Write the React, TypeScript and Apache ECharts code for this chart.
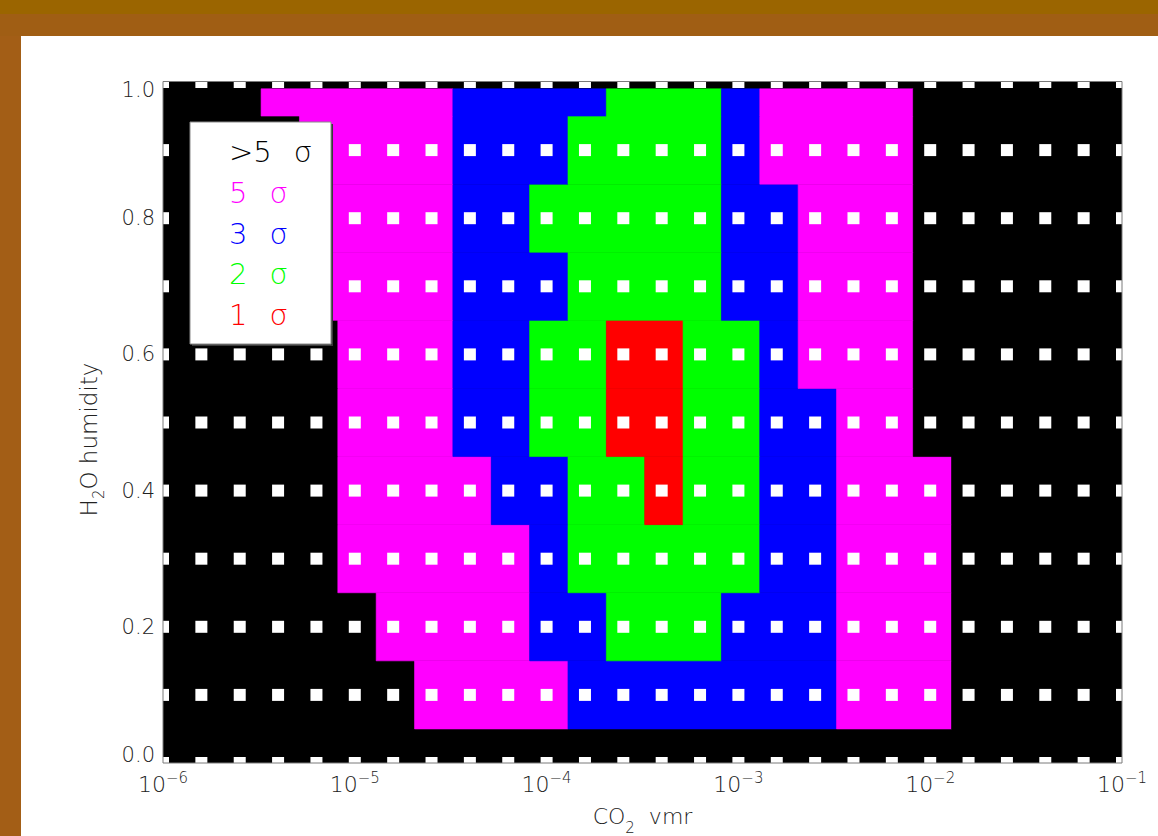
import React, { useEffect, useRef } from "react";
import * as echarts from "echarts";

// CO2 volume mixing ratio grid (five steps per decade)
const CO2_VMR = [
  1e-6, 1.585e-6, 2.512e-6, 3.981e-6, 6.31e-6,
  1e-5, 1.585e-5, 2.512e-5, 3.981e-5, 6.31e-5,
  1e-4, 1.585e-4, 2.512e-4, 3.981e-4, 6.31e-4,
  1e-3, 1.585e-3, 2.512e-3, 3.981e-3, 6.31e-3,
  1e-2, 1.585e-2, 2.512e-2, 3.981e-2, 6.31e-2,
  1e-1,
];

// H2O humidity grid
const H2O_HUMIDITY = [0.0, 0.1, 0.2, 0.3, 0.4, 0.5, 0.6, 0.7, 0.8, 0.9, 1.0];

// Confidence level of each grid cell: 0 = >5σ, 1 = 5σ, 2 = 3σ, 3 = 2σ, 4 = 1σ
// One row per humidity value (bottom to top), one column per CO2 value.
const SIGMA_ROW_00 = [0,0,0,0,0,0,0,0,0,0,0,0,0,0,0,0,0,0,0,0,0,0,0,0,0,0];
const SIGMA_ROW_01 = [0,0,0,0,0,0,0,1,1,1,1,2,2,2,2,2,2,2,1,1,1,0,0,0,0,0];
const SIGMA_ROW_02 = [0,0,0,0,0,0,1,1,1,1,2,2,3,3,3,2,2,2,1,1,1,0,0,0,0,0];
const SIGMA_ROW_03 = [0,0,0,0,0,1,1,1,1,1,2,3,3,3,3,3,2,2,1,1,1,0,0,0,0,0];
const SIGMA_ROW_04 = [0,0,0,0,0,1,1,1,1,2,2,3,3,4,3,3,2,2,1,1,1,0,0,0,0,0];
const SIGMA_ROW_05 = [0,0,0,0,0,1,1,1,2,2,3,3,4,4,3,3,2,2,1,1,0,0,0,0,0,0];
const SIGMA_ROW_06 = [0,0,0,0,0,1,1,1,2,2,3,3,4,4,3,3,2,1,1,1,0,0,0,0,0,0];
const SIGMA_ROW_07 = [0,0,0,0,1,1,1,1,2,2,2,3,3,3,3,2,2,1,1,1,0,0,0,0,0,0];
const SIGMA_ROW_08 = [0,0,0,0,1,1,1,1,2,2,3,3,3,3,3,2,2,1,1,1,0,0,0,0,0,0];
const SIGMA_ROW_09 = [0,0,0,0,1,1,1,1,2,2,2,3,3,3,3,2,1,1,1,1,0,0,0,0,0,0];
const SIGMA_ROW_10 = [0,0,0,1,1,1,1,1,2,2,2,2,3,3,3,2,1,1,1,1,0,0,0,0,0,0];

const SIGMA_ROWS = [
  SIGMA_ROW_00, SIGMA_ROW_01, SIGMA_ROW_02, SIGMA_ROW_03, SIGMA_ROW_04, SIGMA_ROW_05,
  SIGMA_ROW_06, SIGMA_ROW_07, SIGMA_ROW_08, SIGMA_ROW_09, SIGMA_ROW_10,
];

const LEVEL_LABELS = [">5", "5", "3", "2", "1"];
const LEVEL_COLORS = ["#000000", "#ff00ff", "#0000ff", "#00ff00", "#ff0000"];

// Upper limit of the filled area on the humidity axis
const FILL_TOP = 0.99;

const FONT = "'DejaVu Sans', sans-serif";
const GRID = { left: 163, top: 82, width: 959, height: 681 };

// Each cell extends halfway (linearly) to its neighbours; runs of equal level are merged.
function buildCells() {
  const cells: number[][] = [];
  const nx = CO2_VMR.length;
  const ny = H2O_HUMIDITY.length;
  for (let r = 0; r < ny; r++) {
    const y0 = r === 0 ? H2O_HUMIDITY[0] : (H2O_HUMIDITY[r - 1] + H2O_HUMIDITY[r]) / 2;
    const y1 = r === ny - 1 ? FILL_TOP : (H2O_HUMIDITY[r] + H2O_HUMIDITY[r + 1]) / 2;
    const row = SIGMA_ROWS[r];
    let c = 0;
    while (c < nx) {
      let e = c;
      while (e + 1 < nx && row[e + 1] === row[c]) e++;
      const x0 = c === 0 ? CO2_VMR[0] : (CO2_VMR[c - 1] + CO2_VMR[c]) / 2;
      const x1 = e === nx - 1 ? CO2_VMR[nx - 1] : (CO2_VMR[e] + CO2_VMR[e + 1]) / 2;
      cells.push([x0, x1, y0, y1, row[c]]);
      c = e + 1;
    }
  }
  return cells;
}

function buildNodes() {
  const pts: number[][] = [];
  for (const y of H2O_HUMIDITY) for (const x of CO2_VMR) pts.push([x, y]);
  return pts;
}

const labelText = { fontFamily: FONT, fontSize: 21, fontWeight: 200, color: "#222" };

export default function App() {
  const ref = useRef<HTMLDivElement>(null);

  useEffect(() => {
    if (!ref.current) return;
    const chart = echarts.init(ref.current, null, { renderer: "svg" });

    const legendTop = 152;
    const legendStep = 40.8;
    const legendItems = LEVEL_LABELS.map((lab, i) => ({
      type: "text",
      z: 102,
      x: 229,
      y: legendTop + i * legendStep,
      style: {
        text: `{n|${lab}}{g|}{s|σ}`,
        fill: LEVEL_COLORS[i],
        verticalAlign: "middle",
        rich: {
          n: { fontFamily: FONT, fontSize: 29, fontWeight: 200, fill: LEVEL_COLORS[i] },
          g: { width: 22 },
          s: { fontFamily: FONT, fontSize: 29, fontWeight: 200, fill: LEVEL_COLORS[i] },
        },
      },
    }));

    const option: any = {
      animation: false,
      backgroundColor: "#ffffff",
      grid: {
        left: GRID.left,
        top: GRID.top,
        width: GRID.width,
        height: GRID.height,
        outerBoundsMode: "none",
        containLabel: false,
        show: true,
        backgroundColor: "#000000",
        borderWidth: 0,
      },
      xAxis: {
        type: "log",
        logBase: 10,
        min: 1e-6,
        max: 1e-1,
        axisLine: { show: false },
        axisTick: { show: false },
        splitLine: { show: false },
        minorTick: { show: false },
        name: "{t|CO}{sub|2}{t|  vmr}",
        nameLocation: "middle",
        nameGap: 35,
        nameTextStyle: {
          rich: {
            t: { fontFamily: FONT, fontSize: 22, fontWeight: 200, color: "#222" },
            sub: { fontFamily: FONT, fontSize: 15, fontWeight: 200, color: "#222", padding: [22, 0, 0, 0] },
          },
        },
        axisLabel: {
          margin: 7,
          color: "#222",
          formatter: (v: number) => `{b|10}{e|−${Math.abs(Math.round(Math.log10(v)))}}`,
          rich: {
            b: { fontFamily: FONT, fontSize: 22, fontWeight: 200, color: "#222" },
            e: { fontFamily: FONT, fontSize: 15, fontWeight: 200, color: "#222", padding: [0, 0, 14, 0] },
          },
        },
      },
      yAxis: {
        type: "value",
        min: 0,
        max: 1,
        interval: 0.2,
        axisLine: { show: false },
        axisTick: { show: false },
        splitLine: { show: false },
        name: "{t|H}{sub|2}{t|O humidity}",
        nameLocation: "middle",
        nameGap: 57,
        nameTextStyle: {
          padding: [0, 34, 0, 0],
          rich: {
            t: { fontFamily: FONT, fontSize: 23, fontWeight: 200, color: "#222" },
            sub: { fontFamily: FONT, fontSize: 15, fontWeight: 200, color: "#222", padding: [20, 0, 0, 0] },
          },
        },
        axisLabel: {
          margin: 8,
          ...labelText,
          // end labels sit just inside the frame
          formatter: (v: number) => {
            const s = v.toFixed(1);
            if (v >= 1) return `{hi|${s}}`;
            if (v <= 0) return `{lo|${s}}`;
            return `{m|${s}}`;
          },
          rich: {
            m: { ...labelText },
            hi: { ...labelText, padding: [15, 0, 0, 0] },
            lo: { ...labelText, padding: [0, 0, 17, 0] },
          },
        },
      },
      series: [
        {
          type: "custom",
          name: "confidence",
          clip: true,
          encode: { x: [0, 1], y: [2, 3] },
          data: buildCells(),
          renderItem: (params: any, api: any) => {
            const p0 = api.coord([api.value(0), api.value(3)]);
            const p1 = api.coord([api.value(1), api.value(2)]);
            const color = LEVEL_COLORS[api.value(4)];
            return {
              type: "rect",
              shape: { x: p0[0], y: p0[1], width: p1[0] - p0[0], height: p1[1] - p0[1] },
              style: { fill: color, stroke: color, lineWidth: 0.6 },
            };
          },
        },
        {
          type: "custom",
          name: "nodes",
          clip: true,
          z: 3,
          encode: { x: 0, y: 1 },
          data: buildNodes(),
          renderItem: (params: any, api: any) => {
            const p = api.coord([api.value(0), api.value(1)]);
            const s = 12;
            return {
              type: "rect",
              shape: { x: p[0] - s / 2, y: p[1] - s / 2, width: s, height: s },
              style: { fill: "#ffffff" },
            };
          },
        },
      ],
      graphic: [
        { type: "rect", z: 0, shape: { x: 0, y: 0, width: 1158, height: 14 }, style: { fill: "#9b6500" } },
        { type: "rect", z: 0, shape: { x: 0, y: 14, width: 1158, height: 22 }, style: { fill: "#a05e14" } },
        { type: "rect", z: 0, shape: { x: 0, y: 36, width: 21, height: 800 }, style: { fill: "#a35e16" } },
        {
          type: "rect",
          z: 100,
          shape: { x: GRID.left, y: GRID.top - 0.5, width: GRID.width, height: GRID.height + 0.5 },
          style: { fill: "none", stroke: "#7a7a7a", lineWidth: 1 },
        },
        // legend box with a thin drop shadow
        { type: "rect", z: 100, shape: { x: 192, y: 124, width: 141, height: 222 }, style: { fill: "#3a3a3a" } },
        {
          type: "rect",
          z: 101,
          shape: { x: 190, y: 122, width: 141, height: 222 },
          style: { fill: "#ffffff", stroke: "#8a8a8a", lineWidth: 1 },
        },
        ...legendItems,
      ],
    };

    chart.setOption(option);
    return () => chart.dispose();
  }, []);

  return (
    <div
      ref={ref}
      style={{ position: "fixed", left: 0, top: 0, width: 1158, height: 836 }}
    />
  );
}
